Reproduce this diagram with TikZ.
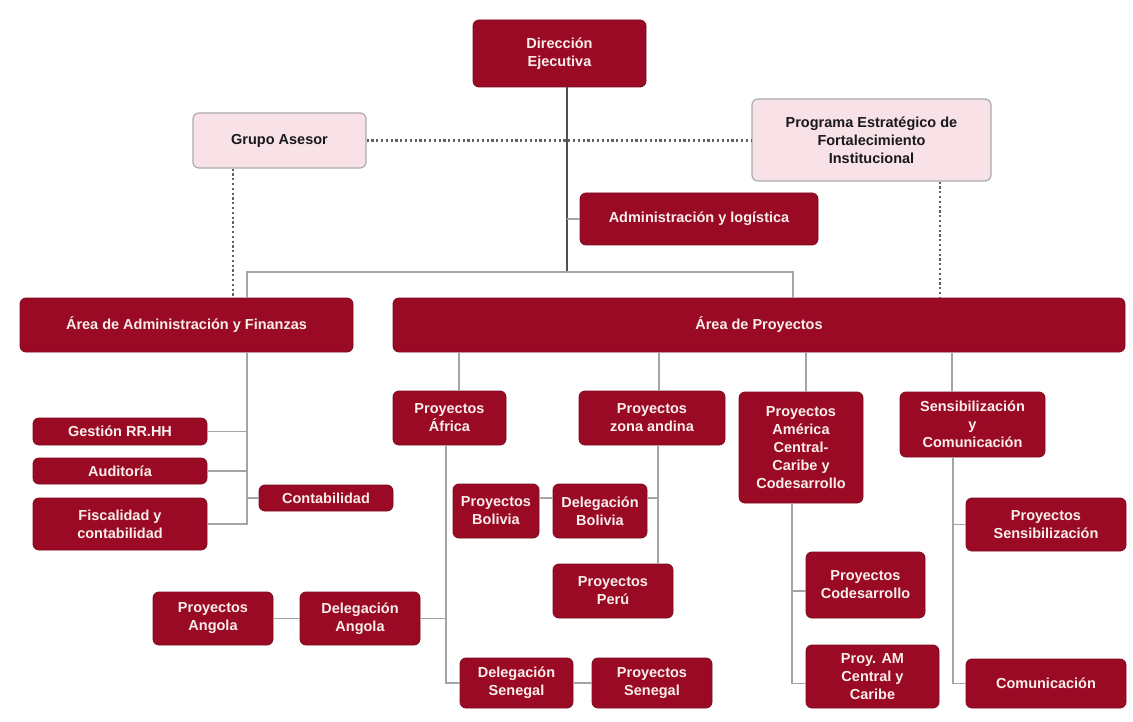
\documentclass[tikz,border=0pt]{standalone}
\usepackage{fontspec}
\setmainfont{Liberation Sans}
\usetikzlibrary{positioning}
\definecolor{unitred}{HTML}{9B0A25}
\definecolor{unitedge}{HTML}{7A0A1E}
\definecolor{unittext}{HTML}{F8EEEA}
\definecolor{advfill}{HTML}{F9E2E7}
\definecolor{advedge}{HTML}{ABABAB}
\definecolor{linkgray}{HTML}{A4A4A4}
\definecolor{trunkgray}{HTML}{505050}
\tikzset{
  block/.style   = {rounded corners=6pt, align=center, inner sep=0pt,
                    font=\fontsize{14.5}{18}\selectfont\bfseries},
  unit/.style    = {block, fill=unitred, draw=unitedge, line width=0.8pt, text=unittext},
  adviser/.style = {block, fill=advfill, draw=advedge, line width=1.2pt, text=black!90},
  link/.style    = {draw=linkgray, line width=1.8pt},
  trunk/.style   = {draw=trunkgray, line width=1.8pt},
  advice/.style  = {draw=black!62, line width=2.2pt, dash pattern=on 2.2pt off 2.6pt}
}

\begin{document}
\begin{tikzpicture}[x=1pt, y=-1pt]
\fill[white] (0,0) rectangle (1133,722);
\useasboundingbox (0,0) rectangle (1133,722);

% top level
\node[unit, minimum width=173, minimum height=67] at (559.5,53.5) (dir)
  {\fontsize{14.5}{21}\selectfont Dirección\\Ejecutiva};
\node[adviser, minimum width=173, minimum height=55] at (279.5,140.5) (asesor) {Grupo Asesor};
\node[adviser, minimum width=239, minimum height=82] at (871.5,140) (programa)
  {Programa Estratégico de\\Fortalecimiento\\Institucional};
\node[unit, minimum width=238, minimum height=52] at (699,219) (logistica) {Administración y logística};

% areas
\node[unit, minimum width=333, minimum height=54] at (186.5,325) (areaadm) {Área de Administración y Finanzas};
\node[unit, minimum width=732, minimum height=54] at (759,325) (areaproy) {Área de Proyectos};

% administration and finance
\node[unit, minimum width=174, minimum height=27] at (120,431.5) (rrhh)      {Gestión RR.HH};
\node[unit, minimum width=174, minimum height=26] at (120,471)   (auditoria) {Auditoría};
\node[unit, minimum width=174, minimum height=52] at (120,524)   (fiscal)    {Fiscalidad y\\contabilidad};
\node[unit, minimum width=134, minimum height=26] at (326,498)   (contab)    {Contabilidad};

% project groups
\node[unit, minimum width=113, minimum height=54]  at (449.5,418)  (africa)  {Proyectos\\África};
\node[unit, minimum width=146, minimum height=54]  at (652,418)    (andina)  {Proyectos\\zona andina};
\node[unit, minimum width=124, minimum height=111] at (801,447.5)  (america)
  {Proyectos\\América\\Central-\\Caribe y\\Codesarrollo};
\node[unit, minimum width=145, minimum height=65]  at (972.5,424.5) (sensib) {Sensibilización\\y\\Comunicación};

% Africa
\node[unit, minimum width=120, minimum height=53] at (213,618.5) (pangola)   {Proyectos\\Angola};
\node[unit, minimum width=120, minimum height=53] at (360,618.5) (dangola)   {Delegación\\Angola};
\node[unit, minimum width=113, minimum height=50] at (516.5,683) (dsenegal)  {Delegación\\Senegal};
\node[unit, minimum width=120, minimum height=50] at (652,683)   (psenegal)  {Proyectos\\Senegal};

% zona andina
\node[unit, minimum width=86, minimum height=54]  at (496,511) (pbolivia) {Proyectos\\Bolivia};
\node[unit, minimum width=94, minimum height=54]  at (600,511) (dbolivia) {Delegación\\Bolivia};
\node[unit, minimum width=120, minimum height=54] at (613,591) (peru)     {Proyectos\\Perú};

% America
\node[unit, minimum width=119, minimum height=66] at (865.5,585)  (pcodes) {Proyectos\\Codesarrollo};
\node[unit, minimum width=133, minimum height=63] at (872.5,676.5) (pam)   {Proy. AM\\Central y\\Caribe};

% sensibilizacion
\node[unit, minimum width=160, minimum height=53] at (1046,524.5) (psensib) {Proyectos\\Sensibilización};
\node[unit, minimum width=160, minimum height=49] at (1046,683.5) (comunic) {Comunicación};

% spines
\coordinate (busL) at (247,272);
\coordinate (busM) at (567,272);
\coordinate (busR) at (793,272);
\coordinate (advL) at (233,168);
\coordinate (advR) at (940,181);
\coordinate (admspine) at (247,352);
\coordinate (afrtop) at (459,352);
\coordinate (andtop) at (659,352);
\coordinate (amtop)  at (806,352);
\coordinate (sentop) at (952,352);
\coordinate (afrspine) at (446,445);
\coordinate (andspine) at (658,445);
\coordinate (amspine)  at (792,503);
\coordinate (senspine) at (953,457);
\coordinate (bolend)   at ([yshift=13pt]dbolivia.east);
\coordinate (bolstart) at ([yshift=13pt]pbolivia.east);
\coordinate (bolmid)   at ([yshift=13pt]dbolivia.west);
\coordinate (pamend)   at ([yshift=-7pt]pam.west);
\coordinate (codesend) at ([yshift=-6pt]pcodes.west);

% direction
\draw[trunk] (dir.south -| busM) -- (busM);
\draw[link] (busM |- logistica.west) -- (logistica.west);
\draw[link] (areaadm.north -| busL) -- (busL) -- (busR) -- (areaproy.north -| busR);
\draw[advice] (asesor.east) -- (programa.west |- asesor.east);
\draw[advice] (asesor.south -| advL) -- (areaadm.north -| advL);
\draw[advice] (programa.south -| advR) -- (areaproy.north -| advR);

% admin area
\draw[link] (admspine) -- (admspine |- fiscal.east) -- (fiscal.east);
\draw[link] (rrhh.east) -- (rrhh.east -| admspine);
\draw[link] (auditoria.east) -- (auditoria.east -| admspine);
\draw[link] (contab.west) -- (contab.west -| admspine);

% project area
\foreach \top/\grp in {afrtop/africa, andtop/andina, amtop/america, sentop/sensib}
  \draw[link] (\top) -- (\grp.north -| \top);

\draw[link] (afrspine) -- (afrspine |- dsenegal.west) -- (dsenegal.west);
\draw[link] (dangola.east) -- (dangola.east -| afrspine);
\draw[link] (pangola) -- (dangola);
\draw[link] (dsenegal) -- (psenegal);

\draw[link] (andspine) -- (peru.north -| andspine);
\draw[link] (bolend) -- (bolend -| andspine);
\draw[link] (bolstart) -- (bolmid);

\draw[link] (amspine) -- (amspine |- pamend) -- (pamend);
\draw[link] (codesend) -- (codesend -| amspine);

\draw[link] (senspine) -- (senspine |- comunic.west) -- (comunic.west);
\draw[link] (psensib.west) -- (psensib.west -| senspine);
\end{tikzpicture}
\end{document}
